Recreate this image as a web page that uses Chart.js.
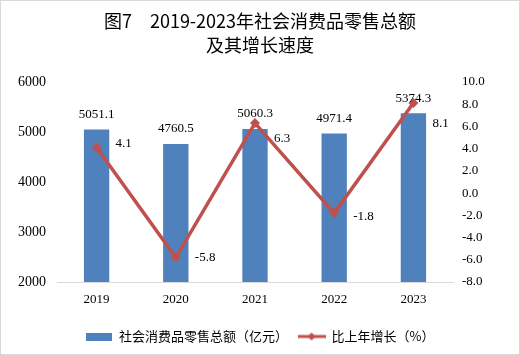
<!DOCTYPE html>
<html><head><meta charset="utf-8">
<script src="https://cdn.jsdelivr.net/npm/chart.js@4/dist/chart.umd.min.js"></script>
<style>html,body{margin:0;padding:0;background:#fff}#wrap{width:520px;height:355px;position:relative}</style>
</head><body><div id="wrap"><canvas id="c" width="520" height="355"></canvas></div>
<script>
const categories = ['2019', '2020', '2021', '2022', '2023'];
const retailSales = [5051.1, 4760.5, 5060.3, 4971.4, 5374.3];
const growthRate = [4.1, -5.8, 6.3, -1.8, 8.1];
const leftTicks = [2000, 3000, 4000, 5000, 6000];
const rightTicks = [-8, -6, -4, -2, 0, 2, 4, 6, 8, 10];
const seriesNames = ['社会消费品零售总额（亿元）', '比上年增长（%）'];
const titleLines = ['图7　2019-2023年社会消费品零售总额', '及其增长速度'];

const BLUE = '#4F81BD', RED = '#C0504D';
const SERIF = "'Liberation Serif','Times New Roman',serif";
const CJK = "'Noto Sans CJK SC','Noto Sans',sans-serif";
// label offsets relative to line points (style config)
const lineLabelDy = [-4, 0, 15, 3, 20];

function boxImg() {
  const c = document.createElement('canvas'); c.width = 26; c.height = 8;
  const g = c.getContext('2d'); g.fillStyle = BLUE; g.fillRect(0, 0, 26, 8); return c;
}
function lineImg() {
  const c = document.createElement('canvas'); c.width = 28; c.height = 10;
  const g = c.getContext('2d'); g.strokeStyle = RED; g.lineWidth = 3;
  g.beginPath(); g.moveTo(0, 5); g.lineTo(28, 5); g.stroke();
  g.fillStyle = RED; g.beginPath(); g.moveTo(14, 1); g.lineTo(18, 5); g.lineTo(14, 9); g.lineTo(10, 5); g.closePath(); g.fill();
  return c;
}
const legendImgs = [boxImg(), lineImg()];

const bgPlugin = {
  id: 'bg',
  beforeDraw(chart) {
    const ctx = chart.ctx; ctx.save();
    ctx.fillStyle = '#fff'; ctx.fillRect(0, 0, chart.width, chart.height);
    ctx.strokeStyle = '#d9d9d9'; ctx.lineWidth = 1;
    ctx.strokeRect(0.5, 0.5, chart.width - 1, chart.height - 1);
    ctx.restore();
  }
};
const labelPlugin = {
  id: 'vlabels',
  afterDatasetsDraw(chart) {
    const ctx = chart.ctx; ctx.save();
    ctx.font = '13px ' + SERIF; ctx.fillStyle = '#000';
    const barMeta = chart.getDatasetMeta(1);
    ctx.textAlign = 'center'; ctx.textBaseline = 'middle';
    barMeta.data.forEach((el, i) => {
      ctx.fillText(retailSales[i].toFixed(1), el.x, el.y - 15);
    });
    const lineMeta = chart.getDatasetMeta(0);
    ctx.textAlign = 'left';
    lineMeta.data.forEach((el, i) => {
      ctx.fillText(growthRate[i].toFixed(1), el.x + 19, el.y + lineLabelDy[i]);
    });
    ctx.restore();
  }
};

new Chart(document.getElementById('c'), {
  data: {
    labels: categories,
    datasets: [
      {
        type: 'line', label: seriesNames[1], data: growthRate, yAxisID: 'y2', order: 0,
        borderColor: RED, backgroundColor: RED, borderWidth: 3.5,
        pointStyle: 'rectRot', pointRadius: 5, pointBorderWidth: 0, tension: 0
      },
      {
        type: 'bar', label: seriesNames[0], data: retailSales, yAxisID: 'y', order: 1,
        backgroundColor: BLUE, categoryPercentage: 0.8, barPercentage: 0.4
      }
    ]
  },
  options: {
    responsive: false, animation: false, devicePixelRatio: 1,
    layout: { padding: { left: 0, right: 0, top: 0, bottom: 2 } },
    plugins: {
      tooltip: { enabled: false },
      title: {
        display: true, text: titleLines, color: '#000',
        font: { family: CJK, size: 18, weight: 'normal', lineHeight: 1.333 },
        padding: { top: 9, bottom: 25 }
      },
      legend: {
        position: 'bottom',
        labels: {
          usePointStyle: true, pointStyleWidth: 27, padding: 10,
          color: '#333', font: { family: CJK, size: 13 },
          generateLabels: () => [
            { text: seriesNames[0], pointStyle: legendImgs[0], fillStyle: BLUE, strokeStyle: BLUE, lineWidth: 0, hidden: false, datasetIndex: 1 },
            { text: seriesNames[1], pointStyle: legendImgs[1], fillStyle: RED, strokeStyle: RED, lineWidth: 0, hidden: false, datasetIndex: 0 }
          ]
        }
      }
    },
    scales: {
      x: {
        grid: { display: false, drawTicks: false },
        border: { display: true, color: '#d9d9d9' },
        ticks: { color: '#000', font: { family: SERIF, size: 13 }, padding: 10 },
        afterFit(s) { s.height = 38; }
      },
      y: {
        position: 'left',
        min: leftTicks[0], max: leftTicks[leftTicks.length - 1],
        ticks: { stepSize: leftTicks[1] - leftTicks[0], color: '#000', font: { family: SERIF, size: 14 }, padding: 11, callback: v => String(v) },
        grid: { display: false, drawTicks: false }, border: { display: false },
        afterFit(s) { s.width = 57; }
      },
      y2: {
        position: 'right',
        min: rightTicks[0], max: rightTicks[rightTicks.length - 1],
        ticks: { stepSize: rightTicks[1] - rightTicks[0], color: '#000', font: { family: SERIF, size: 13 }, padding: 9, callback: v => Number(v).toFixed(1) },
        grid: { display: false, drawTicks: false }, border: { display: false },
        afterFit(s) { s.width = 67; }
      }
    }
  },
  plugins: [bgPlugin, labelPlugin]
});
</script></body></html>
